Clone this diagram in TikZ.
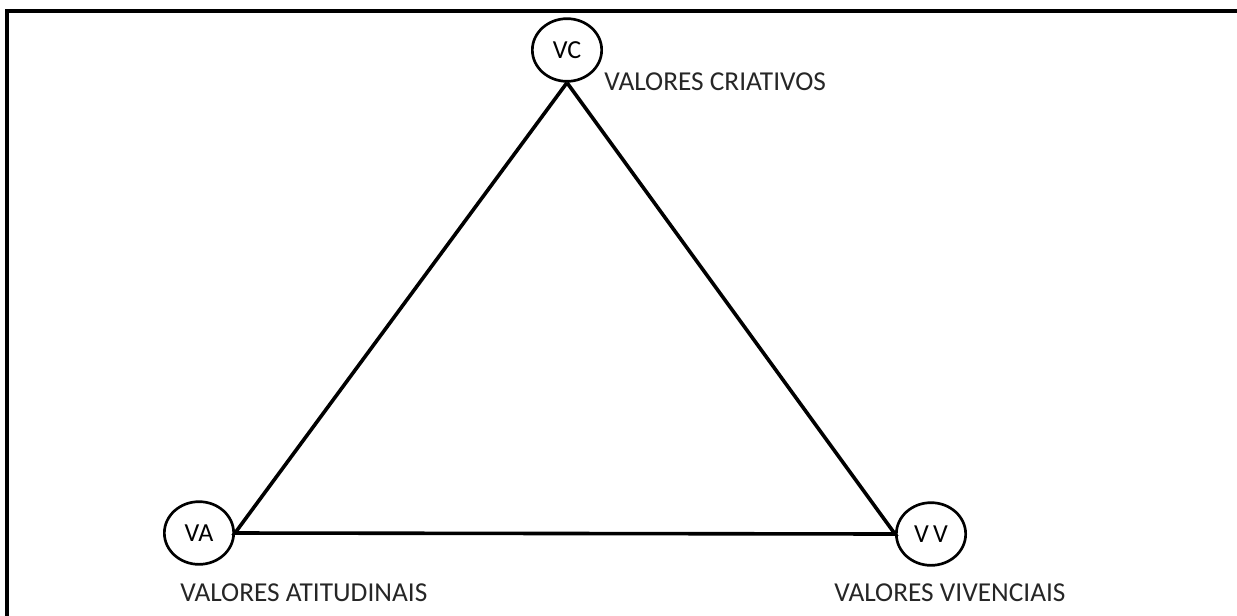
\documentclass[tikz,border=0pt]{standalone}
\usepackage{fontspec}
\setmainfont{Carlito}
\usetikzlibrary{shapes.geometric}

\begin{document}
\begin{tikzpicture}[
    x=0.75pt,y=-0.75pt,
    vnode/.style={ellipse,draw=black,line width=2pt,minimum width=52pt,
      minimum height=47pt,inner sep=0pt,font=\fontsize{19.5}{22}\selectfont},
    vlabel/.style={font=\fontsize{20.5}{24}\selectfont,text=black!85,inner sep=0pt},
    edge/.style={line width=2.7pt,line join=miter},
  ]
    \useasboundingbox (0,0) rectangle (1237,615);
    \draw[line width=2.7pt] (7,617) -- (7,11) -- (1240,11);

    \node[vnode] (vc) at (567,50) {VC};
    \node[vnode] (va) at (199,533) {VA};
    \node[vnode] (vv) at (931,534) {V\,V};

    \node[vlabel,anchor=west] (lc) at (604,82) {VALORES CRIATIVOS};
    \node[vlabel,anchor=west] (la) at (180,593) {VALORES ATITUDINAIS};
    \node[vlabel,anchor=west] (lv) at (834,593) {VALORES VIVENCIAIS};

    \draw[edge] (vc.south) -- (va.east) -- (vv.west) -- (vc.south);
  \end{tikzpicture}
\end{document}
